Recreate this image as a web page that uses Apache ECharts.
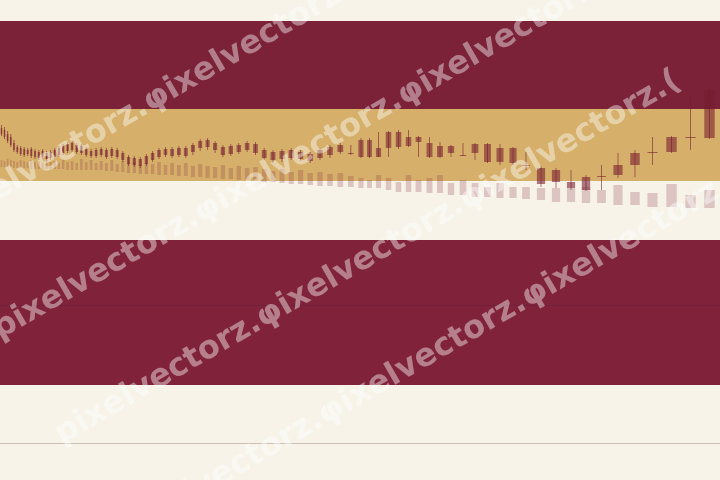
<!DOCTYPE html>
<html><head><meta charset="utf-8">
<script src="https://cdn.jsdelivr.net/npm/echarts@6/dist/echarts.min.js"></script>
<style>html,body{margin:0;padding:0;background:#f7f3e9}#c{width:720px;height:480px}</style>
</head><body><div id="c"></div>
<script>
// session index (x) of each candle
const sessionT = [0.75,2.25,3.8,5.4,7,8.65,10.35,12.1,13.85,15.65,17.5,19.4,21.3,23.3,25.3,27.35,29.45,31.6,33.8,36.05,38.35,40.7,43.1,45.55,48.05,50.6,53.2,55.9,58.6,61.4,64.25,67.15,70.15,73.2,76.3,79.5,82.75,86.05,89.45,92.9,96.45,100.1,103.8,107.55,111.45,115.4,119.4,123.55,127.75,132.1,136.5,141,145.6,150.3,155.1,160,165,170.15,175.4,
  180.5,184.75,189.25,194.25,199.25,204.25,209.25,214.75,220,225.5,231.5,237.5,243.75,250,256.5,263,270.5,278,285.5,293,300.75,309,317.5,326.25,335.75,345.25,354.75];
const openP = [315,313,309,306,300,296,295,294,293,294,292,291,292,290,291,293,295,297,299,300,298,297,294,292,293,294,293,294,293,290,286,285,284,287,290,293,294,294,295,295,298,302,303,300,296,297,298,300,299,293,291,292,293,291,289,293,296,298,290,
  303,303,295,311,311,306,306,300,297,297,288,299,299,295,295,278,275,273,261,266,267,278,290,291,306,306,353];
const closeP = [309,306,302,298,293,291,289,288,289,287,286,285,286,284,285,286,288,290,292,293,291,290,288,287,287,288,286,287,286,283,279,278,277,279,283,286,288,287,288,287,291,295,296,293,288,289,291,293,290,285,283,284,285,284,282,285,288,291,289,
  286,286,286,295,296,297,301,286,286,290,287,290,281,281,280,277,259,261,255,253,266,268,278,290,291,305,305];
const highP = [318,316,312,309,303,298,297,296,295,296,294,293,294,292,293,295,297,299,301,302,300,299,296,294,295,296,295,296,295,292,288,287,286,289,292,295,296,296,297,297,300,304,305,302,298,299,300,302,301,295,293,294,295,293,291,295,298,300,298,
  305,305,311,312,313,313,307,306,301,298,300,300,300,299,296,291,277,275,273,268,278,290,293,306,307,350,355];
const lowP = [307,304,300,296,291,289,287,286,287,285,284,283,284,282,283,284,286,288,290,291,289,288,286,285,285,286,284,285,284,281,277,276,275,277,281,284,286,285,286,285,288,292,293,290,286,287,289,291,288,283,280,281,283,282,280,283,285,289,288,
  285,285,286,286,294,296,286,285,285,286,287,283,280,278,278,273,256,255,253,252,253,265,266,278,290,293,304];
// volume bars (floating: base / top)
const volBase = [276,276,276,276,275,275,275,275,275,274,274,274,274,274,274,274,274,274,273,273,273,273,273,273,273,273,272,272,271,271,270,270,269,269,269,268,268,268,267,267,266,266,265,265,264,264,263,263,262,261,261,260,259,259,258,257,257,256,256,
  255,255,255,253,251,251,251,250,250,248,248,246,246,245,245,244,243,241,241,240,240,238,238,236,236,235,235];
const volTop = [283,282,284,283,282,281,283,282,281,283,281,282,280,283,281,282,280,283,281,282,280,284,281,283,280,282,280,283,279,282,280,281,278,280,279,281,278,280,278,280,277,279,277,276,278,275,277,275,276,274,272,274,271,273,270,271,269,270,267,
  265,263,268,265,261,268,263,265,268,260,263,260,256,260,256,256,255,255,255,256,253,258,251,250,259,248,253];
// price bands and reference level
const bandUpper = [334, 422];
const bandGold = [262, 334];
const bandLower = [58, 203];
const refLevel = 138;
const watermarkRows = [
  'pixelvectorz.φixelvectorz.φ',
  'pixelvectorz.φixelvectorz.φixelvectorz.',
  'pixelvectorz.φixelvectorz.φixelvectorz.(',
  'pixelvectorz.φixelvectorz.φixelvectorz.'
];

const CANDLE = 'rgba(118,28,46,0.58)';
const VOL = 'rgba(128,34,58,0.22)';

function halfW(api, i) {
  const n = sessionT.length;
  const t = sessionT[i];
  const prev = i > 0 ? sessionT[i - 1] : 2 * t - sessionT[i + 1];
  const next = i < n - 1 ? sessionT[i + 1] : 2 * t - sessionT[i - 1];
  const p0 = api.coord([prev, 0])[0], p1 = api.coord([next, 0])[0];
  return (p1 - p0) / 2 * 0.55 / 2;
}

const candleData = sessionT.map((t, i) => [t, openP[i], closeP[i], lowP[i], highP[i]]);
const volData = sessionT.map((t, i) => [t, volBase[i], volTop[i]]);
const lineData = sessionT.map((t, i) => [t, closeP[i]]);

const chart = echarts.init(document.getElementById('c'));
const wmPos = [[-47.5, 235], [3.5, 346], [65.5, 451], [127.5, 548]];
chart.setOption({
  animation: false,
  backgroundColor: '#f7f3e9',
  grid: { left: 0, right: 0, top: 21, bottom: 37 },
  xAxis: { type: 'value', min: 0, max: 360, axisLine: { show: true, lineStyle: { color: '#cbc1b7', width: 1 } },
    axisTick: { show: false }, axisLabel: { show: false }, splitLine: { show: false } },
  yAxis: { type: 'value', min: 0, max: 422, show: false, splitLine: { show: false } },
  series: [
    { type: 'line', data: lineData, symbol: 'none', silent: true, z: 1,
      lineStyle: { opacity: 0 },
      markArea: { silent: true, label: { show: false },
        data: [
          [{ yAxis: bandUpper[1], itemStyle: { color: '#7b2238', opacity: 1 } }, { yAxis: bandUpper[0] }],
          [{ yAxis: bandGold[1], itemStyle: { color: '#d6b06a', opacity: 1 } }, { yAxis: bandGold[0] }],
          [{ yAxis: bandLower[1], itemStyle: { color: '#80233a', opacity: 1 } }, { yAxis: bandLower[0] }]
        ] },
      markLine: { silent: true, symbol: 'none', label: { show: false },
        lineStyle: { color: '#73203a', width: 1, type: 'solid' }, data: [{ yAxis: refLevel }] } },
    { type: 'custom', data: volData, z: 4, encode: { x: 0, y: [1, 2] },
      renderItem: function (params, api) {
        const i = params.dataIndex;
        const a = api.coord([api.value(0), api.value(2)]);
        const b = api.coord([api.value(0), api.value(1)]);
        const hw = halfW(api, i);
        return { type: 'rect', shape: { x: a[0] - hw, y: a[1], width: 2 * hw, height: b[1] - a[1] }, style: { fill: VOL } };
      } },
    { type: 'custom', data: candleData, z: 5, encode: { x: 0, y: [1, 2, 3, 4] },
      renderItem: function (params, api) {
        const i = params.dataIndex;
        const t = api.value(0), o = api.value(1), c = api.value(2), l = api.value(3), h = api.value(4);
        const top = api.coord([t, Math.max(o, c)]);
        const bot = api.coord([t, Math.min(o, c)]);
        const lo = api.coord([t, l]), hi = api.coord([t, h]);
        const hw = halfW(api, i);
        const x = top[0];
        return { type: 'group', children: [
          { type: 'line', shape: { x1: x, y1: hi[1], x2: x, y2: lo[1] }, style: { stroke: CANDLE, lineWidth: 1 } },
          { type: 'rect', shape: { x: x - hw, y: top[1], width: 2 * hw, height: Math.max(1, bot[1] - top[1]) }, style: { fill: CANDLE } }
        ] };
      } }
  ],
  graphic: watermarkRows.map((txt, k) => ({
    type: 'text', x: wmPos[k][0], y: wmPos[k][1], rotation: Math.PI / 6, z: 100, silent: true,
    style: { text: txt, font: 'bold 32px "DejaVu Sans"', fill: 'rgba(255,255,255,0.42)',
      textAlign: 'left', textVerticalAlign: 'bottom', align: 'left', verticalAlign: 'bottom',
      shadowColor: 'rgba(0,0,0,0.45)', shadowOffsetX: 1, shadowOffsetY: 1.5, shadowBlur: 1 }
  }))
});
</script></body></html>
